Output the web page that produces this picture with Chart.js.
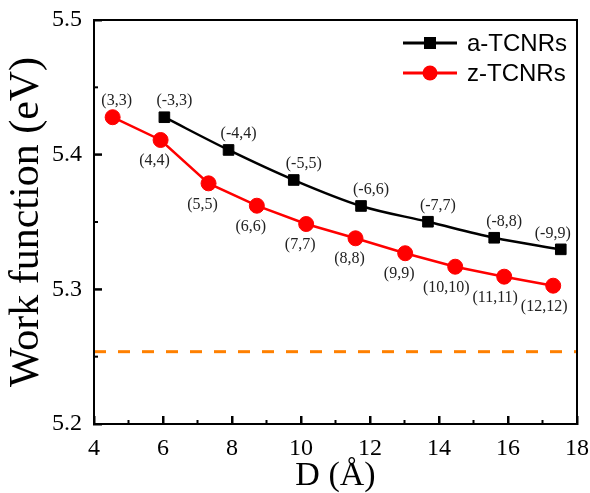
<!DOCTYPE html>
<html>
<head>
<meta charset="utf-8">
<script src="https://cdn.jsdelivr.net/npm/chart.js@4"></script>
<style>
  body { margin: 0; background: #fff; }
  #wrap { width: 590px; height: 493px; }
</style>
</head>
<body>
<div id="wrap"><canvas id="chart"></canvas></div>
<script>
// D (Angstrom) and work function (eV)
var aD = [6.04, 7.90, 9.79, 11.74, 13.68, 15.60, 17.53];
var aWF = [5.4278, 5.4035, 5.3812, 5.3619, 5.3502, 5.3383, 5.3297];
var aNames = ['(-3,3)', '(-4,4)', '(-5,5)', '(-6,6)', '(-7,7)', '(-8,8)', '(-9,9)'];

var zD = [4.54, 5.93, 7.32, 8.72, 10.15, 11.58, 13.02, 14.47, 15.89, 17.31];
var zWF = [5.4278, 5.4109, 5.3787, 5.3621, 5.3485, 5.3379, 5.3268, 5.3168, 5.3094, 5.3027];
var zNames = ['(3,3)', '(4,4)', '(5,5)', '(6,6)', '(7,7)', '(8,8)', '(9,9)', '(10,10)', '(11,11)', '(12,12)'];

var refD = [4, 18];
var refWF = 5.2537;

var seriesNames = ['a-TCNRs', 'z-TCNRs'];
var xTicks = [4, 6, 8, 10, 12, 14, 16, 18];
var yTicks = [5.2, 5.3, 5.4, 5.5];
var xMinor = [5, 7, 9, 11, 13, 15, 17];
var yMinor = [5.25, 5.35, 5.45];

function toPoints(xs, ys) {
    var pts = [];
    for (var i = 0; i < xs.length; i++) {
        pts.push({ x: xs[i], y: ys[i] });
    }
    return pts;
}

var serif = 'Liberation Serif';
var sans = 'Liberation Sans';

// frame + inward ticks (drawn as small filled bars) and the corner legend
var decorPlugin = {
    id: 'decor',
    afterDraw: function (chart) {
        var c = chart.ctx;
        var area = chart.chartArea;
        var xs = chart.scales.x, ys = chart.scales.y;
        c.save();
        c.fillStyle = '#000';
        c.fillRect(area.left - 1, area.top - 1, area.right - area.left + 2, 2);
        c.fillRect(area.left - 1, area.bottom - 1, area.right - area.left + 2, 2);
        c.fillRect(area.left - 1, area.top - 1, 2, area.bottom - area.top + 2);
        c.fillRect(area.right - 1, area.top - 1, 2, area.bottom - area.top + 2);
        xTicks.forEach(function (v) {
            c.fillRect(xs.getPixelForValue(v) - 1, area.bottom - 8, 2, 8);
        });
        xMinor.forEach(function (v) {
            c.fillRect(xs.getPixelForValue(v) - 1, area.bottom - 4, 2, 4);
        });
        yTicks.forEach(function (v) {
            c.fillRect(area.left, ys.getPixelForValue(v) - 1, 8, 2);
        });
        yMinor.forEach(function (v) {
            c.fillRect(area.left, ys.getPixelForValue(v) - 1, 4, 2);
        });
        c.restore();

        var rows = [
            { color: '#000', style: 'rect', y: 43 },
            { color: '#ff0000', style: 'circle', y: 73 }
        ];
        c.save();
        rows.forEach(function (r, i) {
            c.strokeStyle = r.color;
            c.fillStyle = r.color;
            c.lineWidth = 3;
            c.beginPath();
            c.moveTo(403, r.y);
            c.lineTo(457, r.y);
            c.stroke();
            c.beginPath();
            if (r.style === 'rect') {
                c.rect(424, r.y - 6, 12, 12);
            } else {
                c.arc(430, r.y, 7.5, 0, Math.PI * 2);
            }
            c.fill();
            c.fillStyle = '#000';
            c.font = '24px "' + sans + '"';
            c.textAlign = 'left';
            c.textBaseline = 'middle';
            c.fillText(seriesNames[i], 467, r.y + 1);
        });
        c.restore();
    }
};

// point labels like (n,m)
var labelPlugin = {
    id: 'pointNames',
    afterDatasetsDraw: function (chart) {
        var c = chart.ctx;
        c.save();
        c.font = '16px "' + serif + '"';
        c.fillStyle = '#222';
        c.textAlign = 'center';
        c.textBaseline = 'middle';
        chart.getDatasetMeta(0).data.forEach(function (p, i) {
            var dx = (i === aNames.length - 1) ? -8 : 10;
            c.fillText(aNames[i], p.x + dx, p.y - 16);
        });
        chart.getDatasetMeta(1).data.forEach(function (p, i) {
            if (i === 0) {
                c.fillText(zNames[i], p.x + 4, p.y - 16);
            } else {
                var dx = (i >= 7) ? -9 : -6;
                c.fillText(zNames[i], p.x + dx, p.y + 21);
            }
        });
        c.restore();
    }
};

var inwardGrid = {
    display: true,
    drawOnChartArea: false,
    drawTicks: true,
    tickLength: -8,
    tickWidth: 2,
    tickColor: '#000',
    color: '#000'
};
var frameBorder = { display: true, color: '#000', width: 2 };

var myChart = new Chart(document.getElementById('chart'), {
    type: 'scatter',
    data: {
        datasets: [
            {
                label: seriesNames[0],
                data: toPoints(aD, aWF),
                showLine: true,
                borderColor: '#000',
                backgroundColor: '#000',
                borderWidth: 2.5,
                pointStyle: 'rect',
                pointRadius: 7.5,
                pointBorderWidth: 1,
                tension: 0.2,
                cubicInterpolationMode: 'monotone'
            },
            {
                label: seriesNames[1],
                data: toPoints(zD, zWF),
                showLine: true,
                borderColor: '#ff0000',
                backgroundColor: '#ff0000',
                borderWidth: 2.5,
                pointStyle: 'circle',
                pointRadius: 7.5,
                pointBorderWidth: 1,
                tension: 0
            },
            {
                label: 'ref',
                data: toPoints(refD, [refWF, refWF]),
                showLine: true,
                borderColor: '#ff8000',
                borderWidth: 3,
                borderDash: [12, 12],
                pointRadius: 0
            }
        ]
    },
    options: {
        animation: false,
        responsive: true,
        maintainAspectRatio: false,
        layout: { padding: { top: 20, right: 13, left: 0, bottom: 0 } },
        plugins: {
            legend: { display: false },
            tooltip: { enabled: false }
        },
        scales: {
            x: {
                type: 'linear',
                position: 'bottom',
                min: 4,
                max: 18,
                afterBuildTicks: function (s) { s.ticks = xTicks.map(function (v) { return { value: v }; }); },
                grid: inwardGrid,
                border: frameBorder,
                ticks: {
                    color: '#000',
                    padding: 18,
                    maxRotation: 0,
                    font: { family: serif, size: 24 }
                },
                title: {
                    display: true,
                    text: 'D (Å)',
                    color: '#000',
                    padding: { top: 0, bottom: 0 },
                    font: { family: serif, size: 34, lineHeight: 1 }
                },
                afterFit: function (s) { s.height = 69; s.paddingLeft = 0; s.paddingRight = 0; }
            },
            y: {
                type: 'linear',
                position: 'left',
                min: 5.2,
                max: 5.5,
                afterBuildTicks: function (s) { s.ticks = yTicks.map(function (v) { return { value: v }; }); },
                grid: inwardGrid,
                border: frameBorder,
                ticks: {
                    color: '#000',
                    padding: 20,
                    font: { family: serif, size: 24 },
                    callback: function (v) { return v.toFixed(1); }
                },
                title: {
                    display: true,
                    text: 'Work function (eV)',
                    color: '#000',
                    padding: { top: 2, bottom: 0 },
                    font: { family: serif, size: 42, lineHeight: 1.2 }
                },
                afterFit: function (s) { s.width = 94; s.paddingTop = 0; s.paddingBottom = 0; }
            },
            x2: {
                type: 'linear',
                position: 'top',
                min: 4,
                max: 18,
                grid: { display: false },
                border: frameBorder,
                ticks: { display: false },
                afterFit: function (s) { s.height = 0; s.paddingLeft = 0; s.paddingRight = 0; }
            },
            y2: {
                type: 'linear',
                position: 'right',
                min: 5.2,
                max: 5.5,
                grid: { display: false },
                border: frameBorder,
                ticks: { display: false },
                afterFit: function (s) { s.width = 0; s.paddingTop = 0; s.paddingBottom = 0; }
            }
        }
    },
    plugins: [labelPlugin, decorPlugin]
});
</script>
</body>
</html>
